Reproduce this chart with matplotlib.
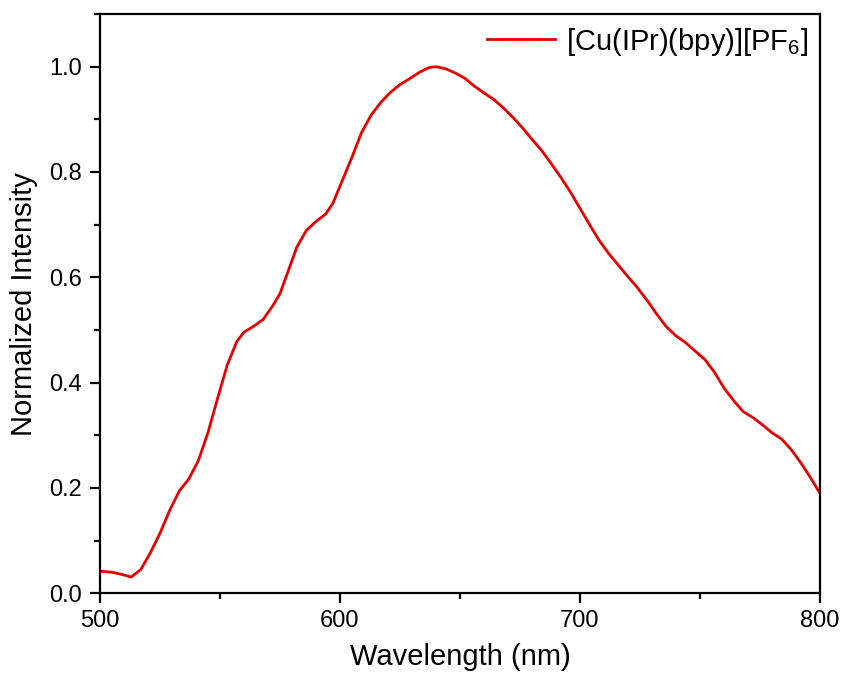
import matplotlib
matplotlib.use("Agg")
import matplotlib.pyplot as plt
from matplotlib.ticker import MultipleLocator

plt.rcParams['font.family'] = ['Liberation Sans', 'DejaVu Sans']
plt.rcParams['mathtext.fontset'] = 'custom'
plt.rcParams['mathtext.rm'] = 'Liberation Sans'

wavelength = [500, 505, 509, 513, 517, 521, 525, 529, 533, 537, 541, 545, 549, 553, 557,
              560, 564, 568, 572, 575, 579, 582, 586, 590, 594, 597, 601, 605, 609, 613,
              617, 621, 625, 629, 633, 637, 640, 644, 648, 652, 656, 660, 664, 668, 672,
              676, 680, 684, 688, 692, 696, 700, 704, 708, 712, 716, 720, 724, 728, 732,
              736, 740, 744, 748, 752, 756, 760, 764, 768, 772, 776, 780, 784, 788, 792,
              796, 800]
intensity = [0.042, 0.040, 0.036, 0.031, 0.045, 0.077, 0.114, 0.157, 0.194, 0.217, 0.252,
             0.305, 0.370, 0.433, 0.478, 0.496, 0.507, 0.520, 0.546, 0.569, 0.619, 0.657,
             0.689, 0.706, 0.720, 0.740, 0.784, 0.828, 0.875, 0.908, 0.932, 0.951, 0.966,
             0.977, 0.989, 0.998, 1.000, 0.996, 0.988, 0.978, 0.963, 0.950, 0.938, 0.922,
             0.904, 0.884, 0.862, 0.841, 0.816, 0.790, 0.762, 0.731, 0.700, 0.670, 0.645,
             0.623, 0.601, 0.580, 0.556, 0.530, 0.506, 0.489, 0.476, 0.460, 0.444, 0.420,
             0.390, 0.366, 0.345, 0.334, 0.320, 0.305, 0.293, 0.273, 0.248, 0.220, 0.190]
series_label = "[Cu(IPr)(bpy)][PF$_6$]"

fig = plt.figure(figsize=(8.45, 6.88), dpi=100)
ax = fig.add_axes([0.1183, 0.1376, 0.8521, 0.8421])
ax.plot(wavelength, intensity, color='#e60000', lw=2.0, label=series_label,
        solid_joinstyle='round')

ax.set_xlim(500, 800)
ax.set_ylim(0, 1.1)
ax.xaxis.set_major_locator(MultipleLocator(100))
ax.xaxis.set_minor_locator(MultipleLocator(50))
ax.yaxis.set_major_locator(MultipleLocator(0.2))
ax.yaxis.set_minor_locator(MultipleLocator(0.1))
ax.yaxis.set_major_formatter(matplotlib.ticker.FormatStrFormatter('%.1f'))

for s in ax.spines.values():
    s.set_linewidth(1.6)
ax.tick_params(which='major', direction='out', length=7, width=1.6, labelsize=17, pad=5)
ax.tick_params(axis='y', which='major', pad=6)
ax.tick_params(which='minor', direction='out', length=4, width=1.6)
ax.tick_params(top=False, right=False, which='both')

ax.set_xlabel('Wavelength (nm)', fontsize=21, labelpad=8)
ax.set_ylabel('Normalized Intensity', fontsize=21, labelpad=8)

leg = ax.legend(loc='upper right', frameon=False, fontsize=21, handlelength=2.3,
                handletextpad=0.4, borderaxespad=0.1, borderpad=0.3)

fig.savefig('out.png', dpi=100)
